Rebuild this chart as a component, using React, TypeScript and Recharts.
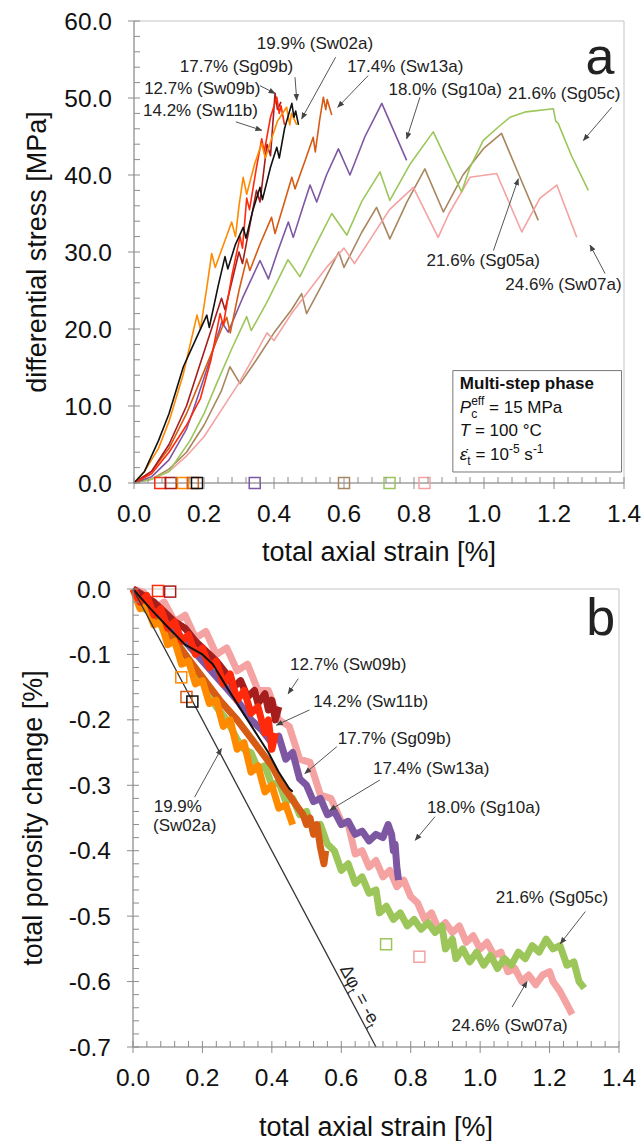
import React from 'react';
import {
  ComposedChart,
  Line,
  Scatter,
  XAxis,
  YAxis,
  ReferenceArea,
  ReferenceDot,
  ReferenceLine,
} from 'recharts';

type Pt = [number, number];

const FONT = '"Liberation Sans", Arial, Helvetica, sans-serif';
const AXIS = '#8c8c8c';

// axis ticks (labelled majors)
const strainMajors = [0, 0.2, 0.4, 0.6, 0.8, 1.0, 1.2, 1.4];
const stressMajors = [0, 10, 20, 30, 40, 50, 60];
const porosityMajors = [0, -0.1, -0.2, -0.3, -0.4, -0.5, -0.6, -0.7];

// sample colours
const colors: Record<string, string> = {
  Sw09b: '#a51d1d',
  Sw11b: '#ff2a0c',
  Sg09b: '#111111',
  Sw02a: '#ff8a00',
  Sw13a: '#d65c16',
  Sg10a: '#7e57a3',
  Sg05c: '#9cc65a',
  Sg05a: '#a8875f',
  Sw07a: '#f4a2a2',
};

// (a) strain [%] vs differential stress [MPa]
const stressSw09b: Pt[] = [[0, 0], [0.05, 1.5], [0.1, 5], [0.15, 10], [0.2, 17], [0.25, 24], [0.26, 22.5], [0.3, 30], [0.31, 28.5], [0.35, 38], [0.36, 36.5], [0.38, 44], [0.39, 42.5], [0.403, 50.6], [0.41, 48.5], [0.42, 49.5]];
const stressSw11b: Pt[] = [[0, 0], [0.05, 1.2], [0.1, 4], [0.15, 7.5], [0.19, 11], [0.22, 16], [0.246, 22], [0.255, 20.5], [0.28, 27], [0.303, 32], [0.31, 30.5], [0.322, 37], [0.33, 35.5], [0.35, 41], [0.365, 44.7], [0.372, 43], [0.39, 47.5], [0.408, 50.1], [0.415, 48], [0.42, 49], [0.43, 46.5]];
const stressSg09b: Pt[] = [[0, 0], [0.03, 1.5], [0.07, 5.5], [0.1, 9], [0.141, 15.1], [0.18, 19], [0.208, 21.8], [0.215, 20.2], [0.24, 25.5], [0.26, 29.4], [0.268, 27.8], [0.29, 31], [0.312, 33.2], [0.32, 31.8], [0.34, 35.5], [0.36, 38.4], [0.367, 36.8], [0.39, 41], [0.408, 43.6], [0.415, 42.2], [0.43, 46], [0.451, 49.3], [0.457, 47.5], [0.462, 48.3], [0.47, 46.5]];
const stressSw02a: Pt[] = [[0, 0], [0.03, 1.5], [0.07, 4.5], [0.1, 8], [0.14, 14], [0.18, 21.8], [0.19, 20], [0.21, 26], [0.222, 29.8], [0.232, 28], [0.26, 31.5], [0.279, 33.9], [0.29, 32], [0.3, 36], [0.312, 39.7], [0.322, 37.5], [0.345, 41.5], [0.365, 44.1], [0.375, 42.2], [0.41, 47], [0.436, 48.8], [0.445, 46.5], [0.45, 48], [0.465, 46.5]];
const stressSw13a: Pt[] = [[0, 0], [0.05, 1.5], [0.1, 4.5], [0.15, 9], [0.2, 14.5], [0.25, 20], [0.265, 21.5], [0.275, 19.5], [0.3, 25], [0.322, 29.1], [0.331, 27.6], [0.36, 31], [0.393, 34.5], [0.403, 32.4], [0.43, 36.5], [0.451, 39.7], [0.46, 38.2], [0.49, 42], [0.512, 44.9], [0.518, 43], [0.53, 47], [0.541, 50.1], [0.548, 48.5], [0.552, 49.8], [0.565, 47.8]];
const stressSg10a: Pt[] = [[0, 0], [0.05, 0.8], [0.1, 3], [0.15, 7], [0.169, 9.4], [0.21, 15], [0.251, 20.9], [0.269, 19.6], [0.31, 24], [0.36, 28.9], [0.384, 26.5], [0.41, 30], [0.441, 33.9], [0.455, 31.9], [0.48, 35.5], [0.503, 38.7], [0.522, 36.5], [0.55, 40], [0.584, 43.4], [0.617, 40], [0.66, 45], [0.708, 49.3], [0.779, 41.9]];
const stressSg05c: Pt[] = [[0, 0], [0.05, 0.5], [0.1, 1.5], [0.16, 5.5], [0.2, 9], [0.236, 12.9], [0.28, 17.5], [0.322, 21.6], [0.335, 19.8], [0.38, 23.5], [0.44, 29], [0.474, 26.8], [0.52, 31], [0.565, 35], [0.608, 32.2], [0.65, 36.5], [0.703, 40.4], [0.731, 36.7], [0.79, 41.5], [0.855, 45.6], [0.936, 37.8], [0.96, 41], [0.998, 44.5], [1.04, 46.2], [1.074, 47.5], [1.12, 48.2], [1.198, 48.6], [1.205, 47], [1.212, 46.7], [1.25, 42.5], [1.298, 38]];
const stressSg05a: Pt[] = [[0, 0], [0.05, 0.5], [0.1, 1.8], [0.15, 4], [0.2, 7.5], [0.25, 12], [0.274, 15.1], [0.303, 12.9], [0.35, 16], [0.4, 19.5], [0.45, 22.5], [0.479, 24.6], [0.493, 22], [0.54, 26], [0.585, 30], [0.6, 28], [0.65, 32.5], [0.693, 35.8], [0.731, 31.7], [0.78, 36.5], [0.831, 40.8], [0.884, 35.2], [0.94, 40], [1.0, 43.5], [1.05, 45.4], [1.1, 40], [1.155, 34.1]];
const stressSw07a: Pt[] = [[0, 0], [0.05, 0.5], [0.1, 1.5], [0.15, 3.5], [0.2, 6], [0.25, 9.5], [0.3, 13], [0.35, 17], [0.38, 19.5], [0.4, 18.5], [0.45, 22], [0.5, 25], [0.55, 28], [0.6, 30.5], [0.63, 28.5], [0.68, 32], [0.73, 35.5], [0.798, 38.4], [0.869, 31.9], [0.9, 35], [0.96, 39.7], [1.036, 40.2], [1.108, 32.6], [1.16, 37], [1.208, 38.7], [1.265, 31.9]];

// (b) strain [%] vs porosity change [%]
const porositySw09b: Pt[] = [[0, 0], [0.03, -0.01], [0.06, -0.02], [0.09, -0.035], [0.12, -0.05], [0.15, -0.06], [0.18, -0.08], [0.21, -0.095], [0.24, -0.11], [0.27, -0.13], [0.29, -0.15], [0.31, -0.14], [0.33, -0.165], [0.35, -0.155], [0.36, -0.175], [0.38, -0.16], [0.39, -0.185], [0.4, -0.17], [0.41, -0.2], [0.42, -0.18]];
const porositySw11b: Pt[] = [[0, 0], [0.02, -0.02], [0.04, -0.01], [0.06, -0.04], [0.08, -0.03], [0.1, -0.06], [0.12, -0.05], [0.14, -0.08], [0.16, -0.07], [0.18, -0.1], [0.2, -0.09], [0.22, -0.12], [0.24, -0.11], [0.26, -0.145], [0.28, -0.13], [0.3, -0.17], [0.32, -0.155], [0.34, -0.19], [0.36, -0.18], [0.38, -0.22], [0.39, -0.2], [0.4, -0.245], [0.41, -0.22]];
const porositySg09b: Pt[] = [[0, 0], [0.05, -0.03], [0.1, -0.058], [0.15, -0.085], [0.2, -0.1], [0.23, -0.115], [0.27, -0.15], [0.3, -0.175], [0.33, -0.2], [0.36, -0.225], [0.39, -0.25], [0.42, -0.28], [0.45, -0.305], [0.46, -0.31]];
const porositySw02a: Pt[] = [[0, 0], [0.02, -0.03], [0.04, -0.025], [0.06, -0.055], [0.08, -0.05], [0.1, -0.085], [0.12, -0.08], [0.14, -0.115], [0.16, -0.11], [0.18, -0.145], [0.2, -0.14], [0.22, -0.175], [0.24, -0.17], [0.26, -0.21], [0.28, -0.2], [0.3, -0.245], [0.32, -0.235], [0.34, -0.28], [0.36, -0.27], [0.38, -0.31], [0.4, -0.3], [0.42, -0.335], [0.44, -0.33], [0.46, -0.36]];
const porositySw13a: Pt[] = [[0, 0], [0.05, -0.035], [0.1, -0.065], [0.15, -0.1], [0.2, -0.135], [0.25, -0.17], [0.3, -0.2], [0.35, -0.235], [0.4, -0.27], [0.43, -0.3], [0.45, -0.315], [0.47, -0.33], [0.49, -0.345], [0.5, -0.36], [0.51, -0.35], [0.52, -0.375], [0.53, -0.36], [0.54, -0.395], [0.55, -0.42], [0.555, -0.4]];
const porositySg10a: Pt[] = [[0, 0], [0.05, -0.025], [0.1, -0.05], [0.15, -0.08], [0.2, -0.11], [0.25, -0.14], [0.3, -0.17], [0.34, -0.2], [0.37, -0.215], [0.4, -0.235], [0.42, -0.225], [0.44, -0.26], [0.46, -0.25], [0.48, -0.29], [0.5, -0.3], [0.52, -0.325], [0.54, -0.32], [0.56, -0.345], [0.58, -0.34], [0.6, -0.36], [0.62, -0.355], [0.64, -0.375], [0.66, -0.37], [0.68, -0.385], [0.7, -0.375], [0.72, -0.38], [0.735, -0.36], [0.745, -0.375], [0.75, -0.4], [0.755, -0.39], [0.76, -0.425], [0.765, -0.445]];
const porositySg05c: Pt[] = [[0, 0], [0.03, -0.03], [0.06, -0.035], [0.09, -0.065], [0.12, -0.075], [0.15, -0.1], [0.18, -0.125], [0.21, -0.15], [0.24, -0.18], [0.27, -0.2], [0.3, -0.23], [0.32, -0.245], [0.34, -0.25], [0.36, -0.275], [0.38, -0.27], [0.4, -0.3], [0.42, -0.295], [0.44, -0.325], [0.46, -0.32], [0.48, -0.345], [0.5, -0.34], [0.52, -0.37], [0.54, -0.36], [0.56, -0.39], [0.58, -0.4], [0.6, -0.43], [0.62, -0.42], [0.64, -0.45], [0.66, -0.44], [0.68, -0.465], [0.7, -0.46], [0.71, -0.495], [0.73, -0.485], [0.75, -0.505], [0.77, -0.495], [0.79, -0.515], [0.81, -0.505], [0.83, -0.52], [0.85, -0.51], [0.87, -0.525], [0.89, -0.515], [0.9, -0.55], [0.92, -0.535], [0.93, -0.565], [0.95, -0.55], [0.97, -0.57], [0.99, -0.555], [1.01, -0.575], [1.03, -0.56], [1.05, -0.58], [1.07, -0.565], [1.09, -0.575], [1.11, -0.555], [1.13, -0.565], [1.15, -0.545], [1.17, -0.555], [1.19, -0.535], [1.21, -0.55], [1.23, -0.545], [1.25, -0.575], [1.27, -0.57], [1.285, -0.6], [1.3, -0.61]];
const porositySw07a: Pt[] = [[0, 0], [0.03, -0.005], [0.06, -0.03], [0.09, -0.02], [0.12, -0.05], [0.15, -0.04], [0.18, -0.075], [0.21, -0.065], [0.24, -0.1], [0.27, -0.09], [0.3, -0.125], [0.33, -0.115], [0.36, -0.155], [0.39, -0.155], [0.42, -0.2], [0.45, -0.21], [0.48, -0.26], [0.51, -0.265], [0.54, -0.315], [0.57, -0.32], [0.6, -0.355], [0.62, -0.36], [0.64, -0.405], [0.66, -0.4], [0.68, -0.425], [0.7, -0.415], [0.72, -0.44], [0.74, -0.43], [0.76, -0.455], [0.78, -0.445], [0.8, -0.47], [0.82, -0.48], [0.84, -0.505], [0.86, -0.495], [0.88, -0.52], [0.9, -0.51], [0.92, -0.525], [0.94, -0.515], [0.96, -0.54], [0.98, -0.53], [1.0, -0.55], [1.02, -0.54], [1.04, -0.56], [1.06, -0.555], [1.08, -0.585], [1.1, -0.58], [1.12, -0.6], [1.14, -0.59], [1.16, -0.605], [1.18, -0.59], [1.2, -0.585], [1.21, -0.6], [1.23, -0.615], [1.25, -0.635], [1.265, -0.65]];

// reference line dphi = -e
const identityLine: Pt[] = [[0, 0], [0.7, -0.7]];

// start-of-phase markers
const markerSamplesA = ['Sw11b', 'Sw09b', 'Sw02a', 'Sw13a', 'Sg09b', 'Sg10a', 'Sg05a', 'Sg05c', 'Sw07a'];
const markerStrainA = [0.075, 0.105, 0.14, 0.168, 0.18, 0.345, 0.6, 0.73, 0.83];
const markerSamplesB = ['Sw11b', 'Sw09b', 'Sw02a', 'Sw13a', 'Sg09b', 'Sg05c', 'Sw07a'];
const markerStrainB = [0.072, 0.107, 0.139, 0.154, 0.171, 0.729, 0.825];
const markerPorosityB = [-0.003, -0.004, -0.135, -0.165, -0.172, -0.543, -0.562];

// annotations (anchored in data coordinates)
const labelsA = [
  { text: '19.9% (Sw02a)', x: 0.517, y: 57.1 },
  { text: '17.7% (Sg09b)', x: 0.293, y: 54.2 },
  { text: '17.4% (Sw13a)', x: 0.775, y: 54.2 },
  { text: '12.7% (Sw09b)', x: 0.195, y: 51.35 },
  { text: '14.2% (Sw11b)', x: 0.19, y: 48.4 },
  { text: '18.0% (Sg10a)', x: 0.889, y: 51.1 },
  { text: '21.6% (Sg05c)', x: 1.229, y: 50.6 },
  { text: '21.6% (Sg05a)', x: 0.998, y: 28.9 },
  { text: '24.6% (Sw07a)', x: 1.227, y: 25.9 },
];
const arrowsA = [
  [0.576, 55.3, 0.479, 47.3],
  [0.46, 52.7, 0.465, 49.7],
  [0.669, 52.9, 0.582, 48.8],
  [0.36, 51.6, 0.403, 50.6],
  [0.291, 46.9, 0.365, 45.8],
  [0.817, 50.1, 0.779, 44.7],
  [1.365, 48.8, 1.284, 44.5],
  [1.027, 30.2, 1.098, 39.5],
  [1.346, 27.2, 1.303, 30.9],
];
const labelsB = [
  { text: '12.7% (Sw09b)', x: 0.62, y: -0.114 },
  { text: '14.2% (Sw11b)', x: 0.685, y: -0.172 },
  { text: '17.7% (Sg09b)', x: 0.753, y: -0.228 },
  { text: '17.4% (Sw13a)', x: 0.859, y: -0.274 },
  { text: '19.9%', x: 0.129, y: -0.332 },
  { text: '(Sw02a)', x: 0.149, y: -0.361 },
  { text: '18.0% (Sg10a)', x: 1.01, y: -0.333 },
  { text: '21.6% (Sg05c)', x: 1.207, y: -0.471 },
  { text: '24.6% (Sw07a)', x: 1.085, y: -0.667 },
];
const arrowsB = [
  [0.476, -0.137, 0.447, -0.16],
  [0.508, -0.185, 0.413, -0.208],
  [0.587, -0.241, 0.495, -0.282],
  [0.711, -0.292, 0.567, -0.338],
  [0.1775, -0.318, 0.2546, -0.244],
  [0.87, -0.348, 0.813, -0.384],
  [1.303, -0.493, 1.231, -0.542],
  [1.092, -0.639, 1.135, -0.6],
];

const toXY = (pts: Pt[]) => pts.map(([x, y]) => ({ x, y }));

const seriesA: [string, Pt[]][] = [
  ['Sg05a', stressSg05a], ['Sw07a', stressSw07a], ['Sg05c', stressSg05c], ['Sg10a', stressSg10a],
  ['Sw13a', stressSw13a], ['Sw09b', stressSw09b], ['Sw11b', stressSw11b], ['Sw02a', stressSw02a], ['Sg09b', stressSg09b],
];
const seriesB: [string, Pt[]][] = [
  ['Sw07a', porositySw07a], ['Sg05c', porositySg05c], ['Sg10a', porositySg10a], ['Sw13a', porositySw13a],
  ['Sw02a', porositySw02a], ['Sw09b', porositySw09b], ['Sw11b', porositySw11b], ['Sg09b', porositySg09b],
];

const markersA = markerSamplesA.map((s, i) => ({ x: markerStrainA[i], y: 0, color: colors[s] }));
const markersB = markerSamplesB.map((s, i) => ({ x: markerStrainB[i], y: markerPorosityB[i], color: colors[s] }));

const range = (from: number, step: number, n: number) => Array.from({ length: n }, (_, i) => +(from + i * step).toFixed(3));
const strainTicks = range(0, 0.04, 36);
const stressTicks = range(0, 2, 31);
const porosityTicks = range(-0.7, 0.02, 36);

const isOn = (v: number, majors: number[]) => majors.some((m) => Math.abs(m - v) < 1e-6);

const XTick = (props: any) => {
  const { x, y, payload } = props;
  const v = payload.value as number;
  const major = isOn(v, strainMajors);
  return (
    <g>
      <line x1={x} x2={x} y1={major ? y + 6 : y} y2={y - 6} stroke={AXIS} />
      {major && (
        <text x={x} y={y + 39} textAnchor="middle" fontSize={24.5} fill="#111" fontFamily={FONT}>
          {v.toFixed(1)}
        </text>
      )}
    </g>
  );
};

const makeYTick = (majors: number[]) => (props: any) => {
  const { x, y, payload } = props;
  const v = payload.value as number;
  const major = isOn(v, majors);
  return (
    <g>
      <line x1={major ? x - 6 : x} x2={x + 6} y1={y} y2={y} stroke={AXIS} />
      {major && (
        <text x={x - 22} y={y + 8.5} textAnchor="end" fontSize={24.5} fill="#111" fontFamily={FONT}>
          {v.toFixed(1)}
        </text>
      )}
    </g>
  );
};

const squareShape = (p: any) => (
  <rect x={p.cx - 5.5} y={p.cy - 5.5} width={11} height={11} fill="none" stroke={p.payload.color} strokeWidth={1.5} />
);

const textShape = (text: string, size = 17) => (p: any) => (
  <text x={p.cx} y={p.cy} dy="0.35em" textAnchor="middle" fontSize={size} fill="#222" fontFamily={FONT}>
    {text}
  </text>
);

const InfoBox = (p: any) => (
  <g fontFamily={FONT} fontSize={17} fill="#111">
    <text x={p.cx} y={p.cy} fontWeight="bold">Multi-step phase</text>
    <text x={p.cx} y={p.cy + 23.5}>
      <tspan fontStyle="italic">P</tspan>
      <tspan fontSize={12} dy={5}>c</tspan>
      <tspan fontSize={12} dx={-6} dy={-13}>eff</tspan>
      <tspan dy={8}> = 15 MPa</tspan>
    </text>
    <text x={p.cx} y={p.cy + 47}>
      <tspan fontStyle="italic">T</tspan> = 100 °C
    </text>
    <text x={p.cx} y={p.cy + 70.5}>
      <tspan fontStyle="italic">ε̇</tspan>
      <tspan fontSize={12} dy={5}>t</tspan>
      <tspan dy={-5}> = 10</tspan>
      <tspan fontSize={12} dy={-7}>-5</tspan>
      <tspan dy={7}> s</tspan>
      <tspan fontSize={12} dy={-7}>-1</tspan>
    </text>
  </g>
);

const PhiLabel = (p: any) => (
  <text
    x={p.cx}
    y={p.cy}
    dy="0.35em"
    textAnchor="middle"
    fontSize={18}
    fill="#222"
    fontFamily={FONT}
    transform={`rotate(62 ${p.cx} ${p.cy})`}
  >
    Δφ<tspan fontSize={12} dy={4}>t</tspan>
    <tspan dy={-4}> = -e</tspan>
    <tspan fontSize={12} dy={4}>t</tspan>
  </text>
);

const titleStyle = { fontSize: 27, fill: '#111', fontFamily: FONT, textAnchor: 'middle' as const };

export default function App() {
  return (
    <div style={{ width: 642, height: 1141, background: '#fff', position: 'relative' }}>
      <style>{'body{margin:0;}'}</style>
      <svg width={0} height={0} style={{ position: 'absolute' }}>
        <defs>
          <marker id="arrowHead" viewBox="0 0 10 10" refX="9" refY="5" markerWidth="7" markerHeight="7" orient="auto">
            <path d="M0,1 L10,5 L0,9 z" fill="#444" />
          </marker>
        </defs>
      </svg>

      {/* panel a */}
      <ComposedChart width={642} height={570} margin={{ top: 21, right: 18, bottom: 0, left: 0 }}>
        <XAxis
          type="number"
          dataKey="x"
          domain={[0, 1.4]}
          ticks={strainTicks}
          interval={0}
          tickSize={0}
          tickMargin={0}
          tickLine={false}
          tick={XTick}
          height={87}
          stroke={AXIS}
          label={{ value: 'total axial strain [%]', position: 'insideBottom', offset: 9, style: titleStyle }}
        />
        <YAxis
          type="number"
          dataKey="y"
          domain={[0, 60]}
          ticks={stressTicks}
          interval={0}
          tickSize={0}
          tickMargin={0}
          tickLine={false}
          tick={makeYTick(stressMajors)}
          width={134}
          stroke={AXIS}
          label={{ value: 'differential stress [MPa]', angle: -90, position: 'insideLeft', offset: 36, style: titleStyle }}
        />
        <ReferenceArea x1={0} x2={1.4} y1={0} y2={60} fill="none" stroke="#c4c4c4" />
        {seriesA.map(([s, pts]) => (
          <Line
            key={s}
            data={toXY(pts)}
            dataKey="y"
            stroke={colors[s]}
            strokeWidth={1.6}
            dot={false}
            isAnimationActive={false}
            strokeLinejoin="round"
          />
        ))}
        <Scatter data={markersA} shape={squareShape} isAnimationActive={false} />
        <ReferenceArea x1={0.911} x2={1.393} y1={1.43} y2={14.6} fill="#fff" fillOpacity={1} stroke="#777" />
        <ReferenceDot x={0.931} y={12.2} r={0} shape={InfoBox} />
        {arrowsA.map((a, i) => (
          <ReferenceLine
            key={'aa' + i}
            segment={[{ x: a[0], y: a[1] }, { x: a[2], y: a[3] }]}
            stroke="#555"
            strokeWidth={1}
            markerEnd="url(#arrowHead)"
          />
        ))}
        {labelsA.map((l) => (
          <ReferenceDot key={l.text} x={l.x} y={l.y} r={0} shape={textShape(l.text)} />
        ))}
        <ReferenceDot x={1.331} y={55.5} r={0} shape={textShape('a', 52)} />
      </ComposedChart>

      {/* panel b */}
      <ComposedChart width={642} height={571} margin={{ top: 19, right: 23, bottom: 0, left: 0 }}>
        <XAxis
          type="number"
          dataKey="x"
          domain={[0, 1.4]}
          ticks={strainTicks}
          interval={0}
          tickSize={0}
          tickMargin={0}
          tickLine={false}
          tick={XTick}
          height={94}
          stroke={AXIS}
          label={{ value: 'total axial strain [%]', position: 'insideBottom', offset: 5, style: titleStyle }}
        />
        <YAxis
          type="number"
          dataKey="y"
          domain={[-0.7, 0]}
          ticks={porosityTicks}
          interval={0}
          tickSize={0}
          tickMargin={0}
          tickLine={false}
          tick={makeYTick(porosityMajors)}
          width={133}
          stroke={AXIS}
          label={{ value: 'total porosity change [%]', angle: -90, position: 'insideLeft', offset: 32, style: titleStyle }}
        />
        <ReferenceArea x1={0} x2={1.4} y1={-0.7} y2={0} fill="none" stroke="#c4c4c4" />
        {seriesB.map(([s, pts]) => (
          <Line
            key={s}
            data={toXY(pts)}
            dataKey="y"
            stroke={colors[s]}
            strokeWidth={s === 'Sg09b' ? 2 : 7}
            dot={false}
            isAnimationActive={false}
            strokeLinejoin="round"
          />
        ))}
        <Line
          data={toXY(identityLine)}
          dataKey="y"
          stroke="#333"
          strokeWidth={1.3}
          dot={false}
          isAnimationActive={false}
        />
        <Scatter data={markersB} shape={squareShape} isAnimationActive={false} />
        {arrowsB.map((a, i) => (
          <ReferenceLine
            key={'ab' + i}
            segment={[{ x: a[0], y: a[1] }, { x: a[2], y: a[3] }]}
            stroke="#555"
            strokeWidth={1}
            markerEnd="url(#arrowHead)"
          />
        ))}
        {labelsB.map((l) => (
          <ReferenceDot key={l.text} x={l.x} y={l.y} r={0} shape={textShape(l.text)} />
        ))}
        <ReferenceDot x={0.656} y={-0.621} r={0} shape={PhiLabel} />
        <ReferenceDot x={1.347} y={-0.042} r={0} shape={textShape('b', 52)} />
      </ComposedChart>
    </div>
  );
}
